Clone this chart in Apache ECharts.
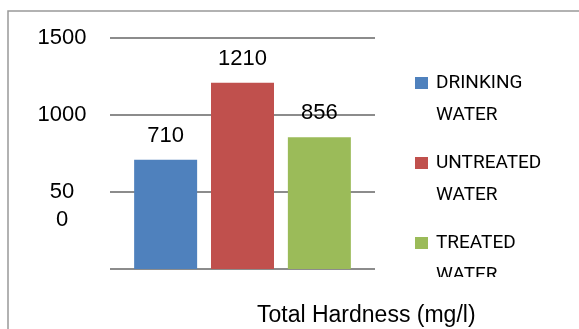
<!DOCTYPE html>
<html>
<head>
<meta charset="utf-8">
<script src="https://cdn.jsdelivr.net/npm/echarts@6/dist/echarts.min.js"></script>
<style>
    html, body { margin: 0; padding: 0; background: #fff; }
    #chart { width: 579px; height: 329px; }
</style>
</head>
<body>
<div id="chart"></div>
<script>
// values
const categories = ['Total Hardness'];
const seriesNames = ['DRINKING\nWATER', 'UNTREATED\nWATER', 'TREATED\nWATER'];
const drinking = [710];
const untreated = [1210];
const treated = [856];
const colors = ['#4F81BD', '#C0504D', '#9BBB59'];
const yTicks = [0, 500, 1000, 1500];

const font = '"Liberation Sans", Arial, sans-serif';
const legendFont = 'Roboto, "Liberation Sans", sans-serif';

let chart = echarts.init(document.getElementById('chart'));

function barSeries(name, data, color) {
    return {
        name: name,
        type: 'bar',
        data: data,
        barWidth: 63,
        barGap: '22%',
        itemStyle: { color: color },
        label: {
            show: true,
            position: 'top',
            distance: 13,
            color: '#000',
            fontFamily: font,
            fontSize: 22
        }
    };
}

chart.setOption({
    animation: false,
    backgroundColor: '#fff',
    title: {
        text: 'Total Hardness (mg/l)',
        left: 257,
        top: 304,
        padding: 0,
        textStyle: { fontFamily: font, fontSize: 23, fontWeight: 'normal', color: '#000' }
    },
    legend: {
        orient: 'vertical',
        left: 415,
        top: 35,
        padding: 0,
        itemWidth: 13,
        itemHeight: 12,
        itemGap: -16,
        icon: 'rect',
        // blank first line so the marker sits beside the first text line
        formatter: function (name) { return '\n' + name; },
        textStyle: {
            fontFamily: legendFont,
            fontSize: 19,
            color: '#000',
            lineHeight: 32,
            padding: [0, 0, 0, 3]
        }
    },
    grid: { left: 110, right: 204, top: 38, bottom: 60 },
    xAxis: {
        type: 'category',
        data: categories,
        axisLine: { show: false },
        axisTick: { show: false },
        axisLabel: { show: false }
    },
    yAxis: {
        type: 'value',
        min: yTicks[0],
        max: yTicks[yTicks.length - 1],
        interval: 500,
        axisLine: { show: false },
        axisTick: { show: false },
        splitLine: { lineStyle: { color: '#8c8c8c', width: 2 } },
        axisLabel: {
            align: 'center',
            margin: 48,
            color: '#000',
            fontFamily: font,
            fontSize: 22,
            lineHeight: 28,
            formatter: function (v) {
                if (v === 0) return '';
                if (v === 500) return '\n50\n0';
                return String(v);
            }
        }
    },
    graphic: [
        {
            type: 'rect',
            shape: { x: 8, y: 11, width: 700, height: 400 },
            style: { fill: 'none', stroke: '#999', lineWidth: 1.5 },
            silent: true
        },
        {
            // the reference cuts the last legend line off here
            type: 'rect',
            z: 100,
            shape: { x: 428, y: 277, width: 140, height: 25 },
            style: { fill: '#fff' },
            silent: true
        }
    ],
    series: [
        barSeries(seriesNames[0], drinking, colors[0]),
        barSeries(seriesNames[1], untreated, colors[1]),
        barSeries(seriesNames[2], treated, colors[2])
    ]
});
</script>
</body>
</html>
